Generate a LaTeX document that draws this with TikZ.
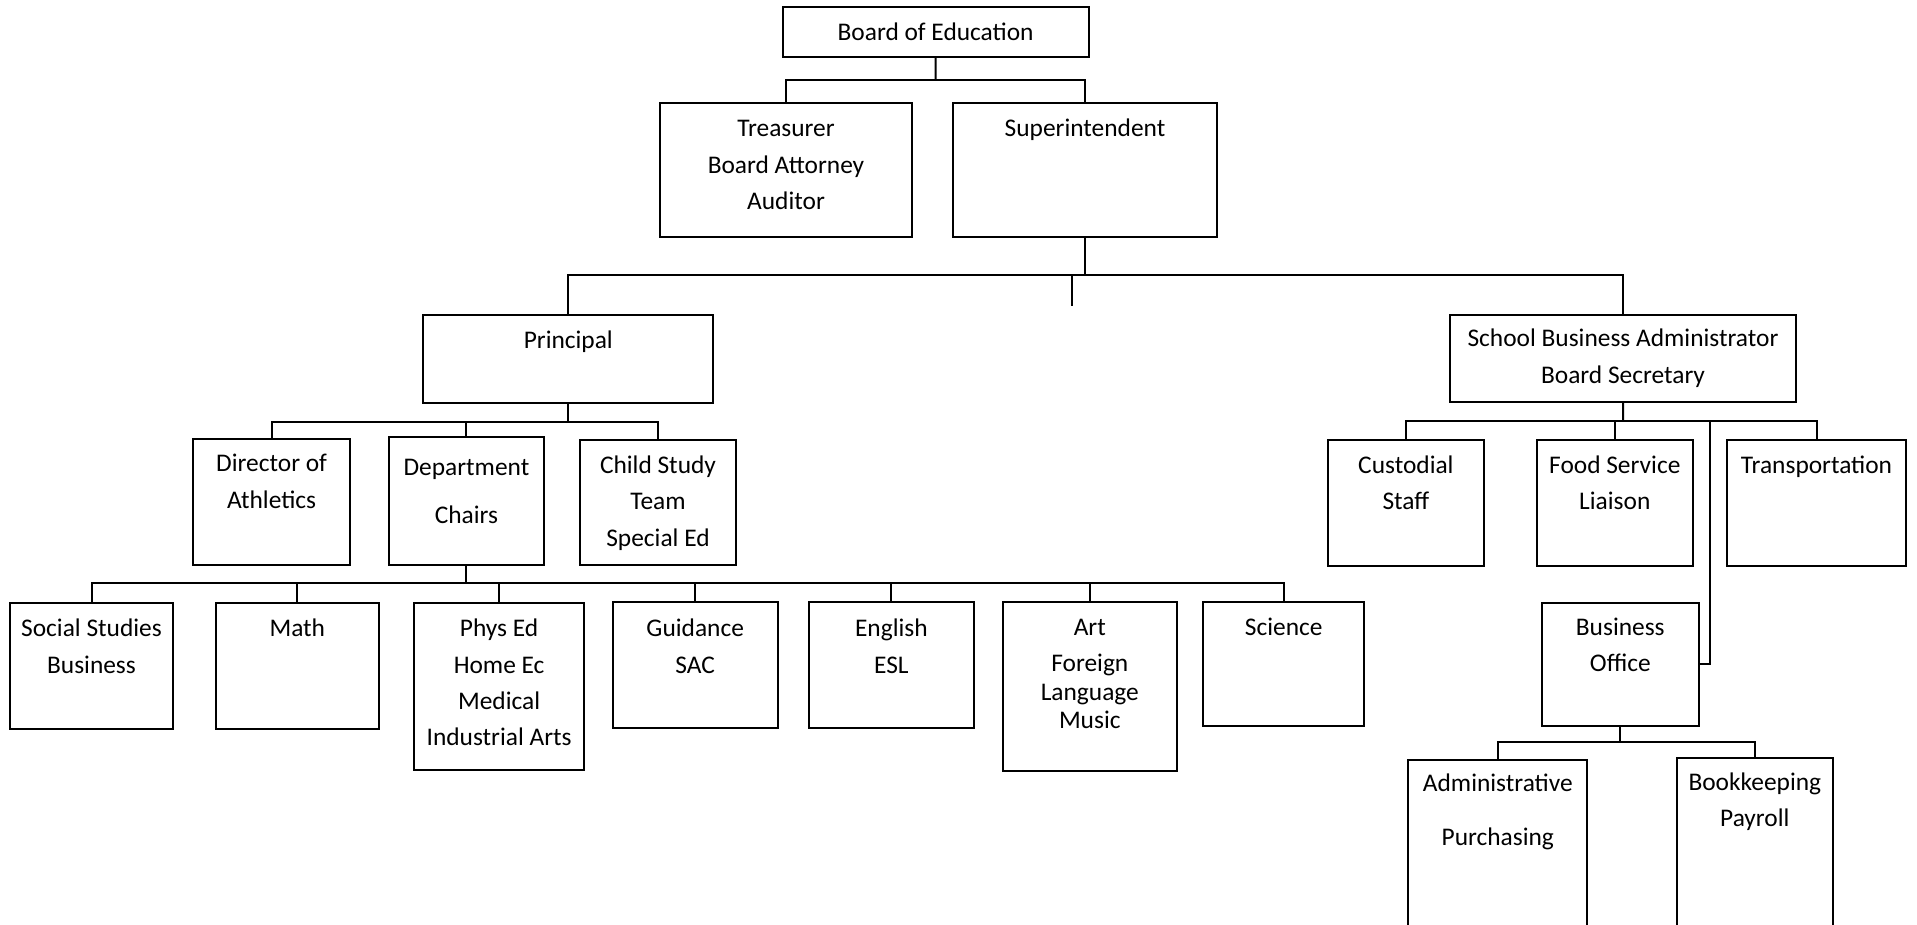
\documentclass[tikz,border=0pt]{standalone}
\usepackage{fontspec}
\setmainfont{Carlito}
\newcommand\mlines[1]{\vtop{\halign{\hfil##\hfil\cr#1\crcr}}}
\tikzset{
  box/.style={draw, line width=2pt, rectangle, inner sep=0pt, outer sep=0pt, anchor=north west},
  txt/.style={anchor=base, inner sep=0pt, font=\fontsize{25.4}{36.4}\selectfont},
  conn/.style={line width=2pt}
}
\begin{document}
\begin{tikzpicture}[x=1pt,y=-1pt]
\path[use as bounding box, fill=white] (0,0) rectangle (1917,924);
\clip (0,0) rectangle (1917,924);

% boxes
\node[box, minimum width=305.8pt, minimum height=50pt] (boe) at (782.7,7.3) {};
\node[box, minimum width=251.4pt, minimum height=134pt] (tre) at (660.3,103.3) {};
\node[box, minimum width=264pt, minimum height=134pt] (sup) at (953,103.3) {};
\node[box, minimum width=290pt, minimum height=87.7pt] (pri) at (423.3,315) {};
\node[box, minimum width=345.5pt, minimum height=87.3pt] (sba) at (1450.3,315) {};
\node[box, minimum width=156.7pt, minimum height=126pt] (dir) at (193.3,439) {};
\node[box, minimum width=155.2pt, minimum height=128pt] (dep) at (388.8,437.3) {};
\node[box, minimum width=156pt, minimum height=125pt] (csd) at (580,440) {};
\node[box, minimum width=156.7pt, minimum height=125.7pt] (cus) at (1327.5,440) {};
\node[box, minimum width=155.8pt, minimum height=125.7pt] (food) at (1536.9,440) {};
\node[box, minimum width=179pt, minimum height=125.7pt] (trn) at (1727,440) {};
\node[box, minimum width=163.4pt, minimum height=126pt] (soc) at (9.8,603) {};
\node[box, minimum width=162.6pt, minimum height=126pt] (math) at (216,603) {};
\node[box, minimum width=169.6pt, minimum height=167pt] (phys) at (414.3,603) {};
\node[box, minimum width=164.8pt, minimum height=126pt] (guid) at (612.8,602) {};
\node[box, minimum width=164.3pt, minimum height=126pt] (eng) at (809.2,602) {};
\node[box, minimum width=173.5pt, minimum height=169pt] (art) at (1003,602) {};
\node[box, minimum width=161pt, minimum height=124.5pt] (sci) at (1203.3,601.7) {};
\node[box, minimum width=156.6pt, minimum height=123.3pt] (bo) at (1542,602.7) {};
\node[box, minimum width=178.8pt, minimum height=200pt] (adm) at (1408.4,760) {};
\node[box, minimum width=156.4pt, minimum height=200pt] (bk) at (1676.6,758.3) {};

% junctions
\coordinate (j1) at (935.6,80);
\coordinate (j2) at (1085,275);
\coordinate (stub) at (1072.4,305.5);
\coordinate (j3) at (568.3,421.5);
\coordinate (j4) at (466.4,583.3);
\coordinate (j5) at (1623,421);
\coordinate (j6) at (1710.4,421);
\coordinate (j7) at (1620.3,741.7);

% connectors
\draw[conn] (boe.south) -- (j1);
\draw[conn] (tre.north) |- (j1) -| (sup.north);
\draw[conn] (sup.south) -- (j2);
\draw[conn] (pri.north) |- (j2) -| (sba.north);
\draw[conn] (stub) -- (stub |- j2);
\draw[conn] (pri.south) -- (j3);
\draw[conn] (dir.north) |- (j3);
\draw[conn] (dep.north) |- (j3);
\draw[conn] (csd.north) |- (j3);
\draw[conn] (dep.south) -- (j4);
\draw[conn] (soc.north) |- (j4);
\draw[conn] (math.north) |- (j4);
\draw[conn] (phys.north) |- (j4);
\draw[conn] (guid.north) |- (j4);
\draw[conn] (eng.north) |- (j4);
\draw[conn] (art.north) |- (j4);
\draw[conn] (sci.north) |- (j4);
\draw[conn] (sba.south) -- (j5);
\draw[conn] (cus.north) |- (j5) -| (trn.north);
\draw[conn] (food.north) |- (j5);
\draw[conn] (bo.east) -| (j6);
\draw[conn] (bo.south) -- (j7);
\draw[conn] (adm.north) |- (j7) -| (bk.north);

% texts
\node[txt] (t-boe) at (935.6,40.7) {\mlines{Board of Education}};
\node[txt] (t-tre) at (786,136.7) {\mlines{Treasurer\cr Board Attorney\cr Auditor}};
\node[txt] (t-sup) at (1085,136.7) {\mlines{Superintendent}};
\node[txt] (t-pri) at (568.3,348.3) {\mlines{Principal}};
\node[txt] (t-sba) at (1623,346.7) {\mlines{School Business Administrator\cr Board Secretary}};
\node[txt] (t-dir) at (271.6,471.7) {\mlines{Director of\cr Athletics}};
\node[txt] (t-dep) at (466.4,475) {\mlines{Department\cr\noalign{\vskip 11.9pt} Chairs}};
\node[txt] (t-csd) at (658,473.3) {\mlines{Child Study\cr Team\cr Special Ed}};
\node[txt] (t-cus) at (1405.9,473.3) {\mlines{Custodial\cr Staff}};
\node[txt] (t-food) at (1614.8,473.3) {\mlines{Food Service\cr Liaison}};
\node[txt] (t-trn) at (1816.5,473.3) {\mlines{Transportation}};
\node[txt] (t-soc) at (91.5,636.7) {\mlines{Social Studies\cr Business}};
\node[txt] (t-math) at (297.3,636.7) {\mlines{Math}};
\node[txt] (t-phys) at (499.1,636.7) {\mlines{Phys Ed\cr Home Ec\cr Medical\cr Industrial Arts}};
\node[txt] (t-guid) at (695.2,636.7) {\mlines{Guidance\cr SAC}};
\node[txt] (t-eng) at (891.4,636.7) {\mlines{English\cr ESL}};
\node[txt] (t-art) at (1089.8,635) {\mlines{Art\cr Foreign\cr\noalign{\vskip -7.4pt} Language\cr\noalign{\vskip -8.1pt} Music}};
\node[txt] (t-sci) at (1283.7,635) {\mlines{Science}};
\node[txt] (t-bo) at (1620.3,635) {\mlines{Business\cr Office}};
\node[txt] (t-adm) at (1497.8,791.7) {\mlines{Administrative\cr\noalign{\vskip 16.9pt} Purchasing}};
\node[txt] (t-bk) at (1754.8,790) {\mlines{Bookkeeping\cr Payroll}};
\end{tikzpicture}
\end{document}
